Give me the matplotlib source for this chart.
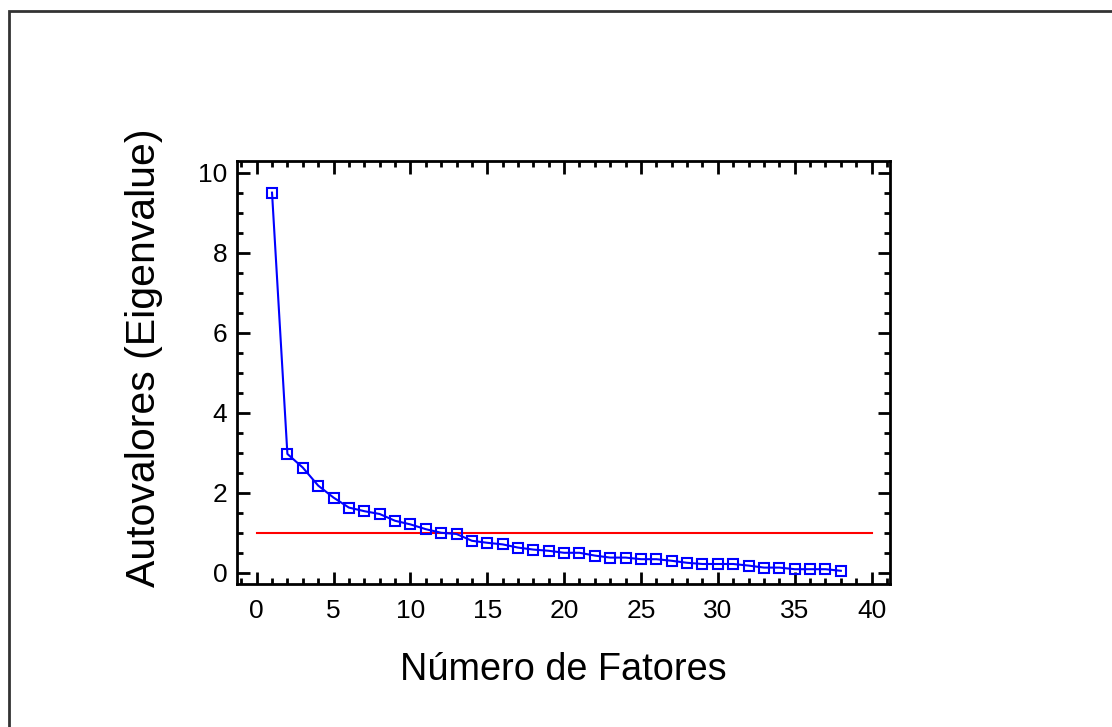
import matplotlib
matplotlib.use("Agg")
import matplotlib.pyplot as plt
from matplotlib.patches import Rectangle
from matplotlib.ticker import MultipleLocator

plt.rcParams['font.family'] = ['Liberation Sans', 'DejaVu Sans']

# eigenvalues
fatores = list(range(1, 39))
autovalores = [9.50, 2.97, 2.63, 2.18, 1.88, 1.63, 1.54, 1.47, 1.30, 1.21,
               1.09, 1.00, 0.97, 0.80, 0.75, 0.71, 0.63, 0.58, 0.55, 0.50,
               0.50, 0.43, 0.38, 0.38, 0.34, 0.34, 0.30, 0.25, 0.22, 0.22,
               0.22, 0.18, 0.13, 0.13, 0.09, 0.09, 0.09, 0.05]
corte = 1.0
corte_x = [0, 40]

fig = plt.figure(figsize=(11.12, 7.27), dpi=100)
ax = fig.add_axes([0.2131, 0.1967, 0.5873, 0.5818])

ax.plot(corte_x, [corte, corte], color='red', lw=1.5, zorder=2)
ax.plot(fatores, autovalores, color='blue', lw=1.5, marker='s', ms=7.3,
        mfc='none', mec='blue', mew=1.5, zorder=3)

ax.set_xlim(-1.28, 41.2)
ax.set_ylim(-0.28, 10.29)
ax.xaxis.set_major_locator(MultipleLocator(5))
ax.xaxis.set_minor_locator(MultipleLocator(1))
ax.yaxis.set_major_locator(MultipleLocator(2))
ax.yaxis.set_minor_locator(MultipleLocator(0.5))
ax.tick_params(which='both', direction='in', top=True, right=True, width=2)
ax.tick_params(which='major', length=9, labelsize=19)
ax.tick_params(axis='x', which='major', pad=11)
ax.tick_params(axis='y', which='major', pad=7)
ax.tick_params(which='minor', length=4.5)
for s in ax.spines.values():
    s.set_linewidth(2)

ax.set_xlabel('Número de Fatores', fontsize=27.3, labelpad=21)
ax.set_ylabel('Autovalores (Eigenvalue)', fontsize=29.5)
ax.yaxis.set_label_coords(-0.113, 0.534)

# outer frame
fig.patches.append(Rectangle((9 / 1112, -0.05), 1.2, 1 - 11 / 727 + 0.05,
                             transform=fig.transFigure, fill=False,
                             lw=2, edgecolor='#333333'))

fig.savefig('out.png', dpi=100)
